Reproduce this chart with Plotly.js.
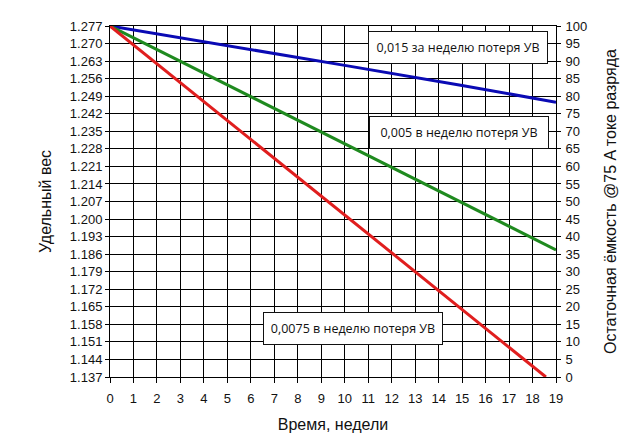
<!DOCTYPE html>
<html>
<head>
<meta charset="utf-8">
<script src="https://cdn.plot.ly/plotly-3.0.1.min.js"></script>
<style>
  html, body { margin: 0; padding: 0; background: #fff; }
  #chart { width: 637px; height: 435px; }
</style>
</head>
<body>
<div id="chart"></div>
<script>
// Values (specific gravity vs weeks)
const weeks = [0, 5, 10, 15, 19];
const sgLoss0015 = [1.277, 1.2693, 1.2613, 1.2533, 1.2466];
const sgLoss005 = [1.277, 1.2535, 1.2300, 1.2065, 1.1877];
const weeksRed = [0, 5, 10, 15, 18.57];
const sgLoss0075 = [1.277, 1.2393, 1.2016, 1.1639, 1.137];

const sgTicks = [1.137, 1.144, 1.151, 1.158, 1.165, 1.172, 1.179, 1.186, 1.193, 1.200,
    1.207, 1.214, 1.221, 1.228, 1.235, 1.242, 1.249, 1.256, 1.263, 1.270, 1.277];
const capacityRange = [0, 100];

const labels = [
    '0,015 за неделю потеря УВ',
    '0,005 в неделю потеря УВ',
    '0,0075 в неделю потеря УВ'
];

const tickFont = { family: 'Liberation Sans, Arial, sans-serif', size: 13, color: '#111' };
const titleFont = { family: 'Liberation Sans, Arial, sans-serif', size: 16, color: '#111' };
const noteFont = { family: 'Open Sans, Noto Sans, sans-serif', size: 12.5, color: '#111' };

const lineTrace = (x, y, color) => ({
    type: 'scatter',
    mode: 'lines',
    x, y,
    line: { color, width: 3 },
    hoverinfo: 'skip',
    showlegend: false
});

const traces = [
    lineTrace(weeks, sgLoss0015, '#0a0ab4'),
    lineTrace(weeks, sgLoss005, '#1f8a1f'),
    lineTrace(weeksRed, sgLoss0075, '#e01e1e'),
    // keeps the right-hand capacity axis on the subplot
    {
        type: 'scatter', mode: 'lines', x: [0, 19], y: capacityRange, yaxis: 'y2',
        line: { color: 'rgba(0,0,0,0)', width: 0 }, hoverinfo: 'skip', showlegend: false
    }
];

const noteBox = (text, x, y) => ({
    text, x, y, xref: 'paper', yref: 'paper',
    xanchor: 'center', yanchor: 'middle',
    showarrow: false,
    font: noteFont,
    bgcolor: '#fff',
    bordercolor: '#111',
    borderwidth: 1,
    borderpad: 4,
    width: 170,
    height: 23
});

const layout = {
    width: 637,
    height: 435,
    margin: { l: 110, r: 81, t: 26, b: 58 },
    paper_bgcolor: '#fff',
    plot_bgcolor: '#fff',
    showlegend: false,
    xaxis: {
        range: [0, 19],
        tickmode: 'linear', tick0: 0, dtick: 1,
        showgrid: true, gridcolor: '#000', gridwidth: 1,
        zeroline: false,
        showline: true, linecolor: '#000', linewidth: 1, mirror: true,
        ticks: 'outside', ticklen: 5, tickcolor: '#000',
        ticklabelstandoff: 4,
        tickfont: tickFont,
        title: { text: 'Время, недели', font: titleFont, standoff: 14 }
    },
    yaxis: {
        range: [1.137, 1.277],
        tickvals: sgTicks,
        ticktext: sgTicks.map(v => v.toFixed(3)),
        showgrid: true, gridcolor: '#000', gridwidth: 1,
        zeroline: false,
        showline: true, linecolor: '#000', linewidth: 1, mirror: true,
        ticks: 'outside', ticklen: 4, tickcolor: '#000',
        tickfont: tickFont,
        title: { text: 'Удельный вес', font: titleFont, standoff: 14 }
    },
    yaxis2: {
        overlaying: 'y',
        side: 'right',
        range: capacityRange,
        tickmode: 'linear', tick0: 0, dtick: 5,
        showgrid: false, zeroline: false,
        showline: false,
        ticks: 'outside', ticklen: 4, tickcolor: '#000',
        ticklabelstandoff: 2,
        tickfont: tickFont,
        title: { text: 'Остаточная ёмкость @75 A токе разряда', font: titleFont, standoff: 18 }
    },
    annotations: [
        noteBox(labels[0], 0.780, 0.940),
        noteBox(labels[1], 0.782, 0.698),
        noteBox(labels[2], 0.545, 0.137)
    ]
};

Plotly.newPlot('chart', traces, layout, { displayModeBar: false, staticPlot: true });
</script>
</body>
</html>
